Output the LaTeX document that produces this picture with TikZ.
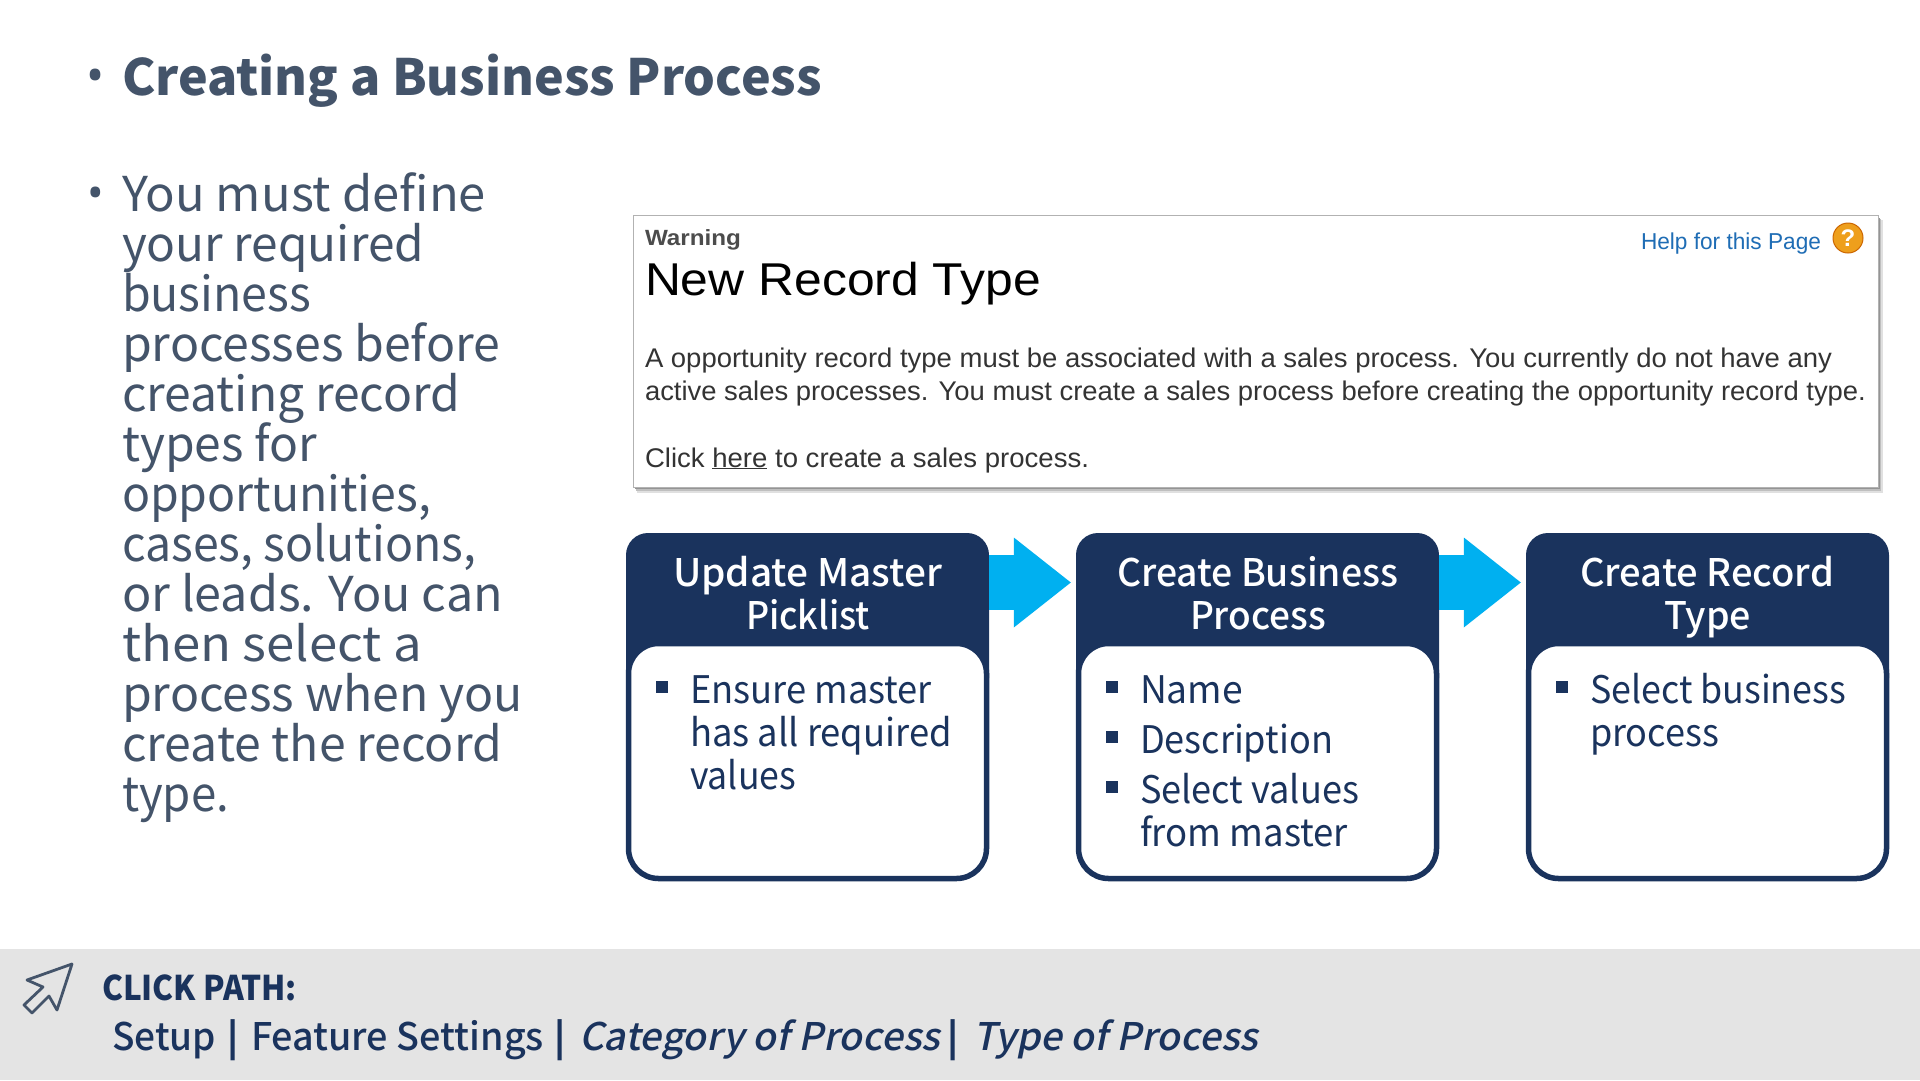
\documentclass[tikz,border=0pt]{standalone}
\usepackage{graphicx}
\usepackage{fontspec}
\usetikzlibrary{arrows.meta}
\setmainfont{Noto Sans CJK SC}
\newfontfamily\slantfont[FakeSlant=0.2]{Noto Sans CJK SC Medium}
\newfontfamily\medfont{Noto Sans CJK SC Medium}
\newfontfamily\bulletfont{Noto Sans}
\newfontfamily\shotfont{Liberation Sans}
\definecolor{slate}{HTML}{44546A}
\definecolor{navy}{HTML}{1A335D}
\definecolor{sky}{HTML}{00B0F0}
\definecolor{band}{HTML}{E4E4E4}
\definecolor{shot}{HTML}{333333}
\definecolor{helpblue}{HTML}{1F6DB5}
\definecolor{helpgold}{HTML}{EE9F1C}
\newcommand{\fsz}[1]{\fontsize{#1}{#1}\selectfont}
% name, x, y(baseline), right end x, style, text
\newcommand{\tline}[6]{\pgfmathsetmacro{\twd}{#4-#2}\node[txt,#5] (#1) at (#2,#3) {\resizebox{\twd pt}{\height}{#6}};}
\tikzset{
  txt/.style={anchor=base west,inner sep=0pt,outer sep=0pt},
  titlet/.style={text=slate,font=\bfseries\fsz{50}},
  bodyt/.style={text=slate,font=\fsz{48}},
  headt/.style={text=white,font=\medfont\fsz{38}},
  itemt/.style={text=navy,font=\fsz{38}},
  patht/.style={text=navy,font=\medfont\fsz{38}},
  pipet/.style={txt,text=navy,font=\bfseries\fsz{36}},
  shott/.style={text=shot,font=\shotfont\fsz{27}},
  headbox/.style={fill=navy,draw=none,rounded corners=22pt,minimum width=363pt,minimum height=167pt,inner sep=0pt},
  bodybox/.style={fill=white,draw=navy,line width=5.5pt,rounded corners=30pt,minimum width=358pt,minimum height=235pt,inner sep=0pt},
  sq/.style={fill=navy,minimum size=12pt,inner sep=0pt},
  flow/.style={draw=sky,line width=55pt,-{Triangle[length=57pt,width=90pt,fill=sky,line width=0pt]},shorten >=5pt},
}
\begin{document}
\begin{tikzpicture}[x=1pt,y=-1pt]
\useasboundingbox (0,0) rectangle (1920,1080);
\fill[white] (0,0) rectangle (1920,1080);
% title and left text
\node[txt,text=slate,font=\bulletfont\fsz{48}] (tb) at (86,92) {•};
\tline{title}{122}{95}{822}{titlet}{Creating a Business Process}
\node[txt,text=slate,font=\bulletfont\fsz{44}] (bb) at (87,208) {•};
\tline{l1}{122}{211.5}{486}{bodyt}{You must define}
\tline{l2}{122}{261.5}{424}{bodyt}{your required}
\tline{l3}{122}{311.5}{311}{bodyt}{business}
\tline{l4}{122}{361.5}{500}{bodyt}{processes before}
\tline{l5}{122}{411.5}{460}{bodyt}{creating record}
\tline{l6}{122}{461.5}{317}{bodyt}{types for}
\tline{l7}{122}{511.5}{431}{bodyt}{opportunities,}
\tline{l8}{122}{561.5}{476}{bodyt}{cases, solutions,}
\tline{l9}{122}{611.5}{503}{bodyt}{or leads. You can}
\tline{l10}{122}{661.5}{422}{bodyt}{then select a}
\tline{l11}{122}{711.5}{523}{bodyt}{process when you}
\tline{l12}{122}{761.5}{502}{bodyt}{create the record}
\tline{l13}{122}{811.5}{229}{bodyt}{type.}
% screenshot
\fill[black!12] (637,220) rectangle (1883,493);
\fill[black!25] (636,219) rectangle (1881,491);
\fill[black!42] (635,218) rectangle (1880,489);
\node[draw=black!30,line width=1pt,fill=white,minimum width=1245pt,minimum height=272pt,inner sep=0pt] (shotbox) at (1255.5,351) {};
\tline{warn}{645}{245}{741}{text=black!70,font=\shotfont\bfseries\fsz{22}}{Warning}
\tline{newrec}{645}{295}{1041}{text=black,font=\shotfont\fsz{46}}{New Record Type}
\tline{help}{1641}{249}{1821}{text=helpblue,font=\shotfont\fsz{23}}{Help for this Page}
\node[circle,fill=helpgold,draw=orange!80!black,line width=1pt,minimum size=30pt,inner sep=0pt,text=white,font=\shotfont\bfseries\fsz{24}] (q) at (1848,238) {?};
\tline{s1}{645}{367}{1832}{shott}{A opportunity record type must be associated with a sales process.  You currently do not have any}
\tline{s2}{645}{400}{1866}{shott}{active sales processes.  You must create a sales process before creating the opportunity record type.}
\tline{s3}{645}{467}{1089}{shott}{Click \underline{here} to create a sales process.}
% boxes
\node[headbox] (h1) at (807.5,616.5) {};
\node[bodybox] (b1) at (807.5,761) {};
\node[headbox] (h2) at (1257.5,616.5) {};
\node[bodybox] (b2) at (1257.5,761) {};
\node[headbox] (h3) at (1707.5,616.5) {};
\node[bodybox] (b3) at (1707.5,761) {};
\draw[flow] ([yshift=34pt]h1.east) -- ([yshift=34pt]h2.west);
\draw[flow] ([yshift=34pt]h2.east) -- ([yshift=34pt]h3.west);
\tline{h1a}{673}{586}{942}{headt}{Update Master}
\tline{h1b}{746}{629}{870}{headt}{Picklist}
\tline{h2a}{1117}{586}{1398}{headt}{Create Business}
\tline{h2b}{1190}{629}{1326}{headt}{Process}
\tline{h3a}{1580}{586}{1834}{headt}{Create Record}
\tline{h3b}{1664}{629}{1751}{headt}{Type}
\node[sq] (q1) at (662,687) {};
\tline{i1a}{690}{703}{932}{itemt}{Ensure master}
\tline{i1b}{690}{746}{952}{itemt}{has all required}
\tline{i1c}{690}{789}{796}{itemt}{values}
\node[sq] (q2) at (1112,687) {};
\tline{i2a}{1140}{703}{1243}{itemt}{Name}
\node[sq] (q3) at (1112,737) {};
\tline{i2b}{1140}{753}{1333}{itemt}{Description}
\node[sq] (q4) at (1112,787) {};
\tline{i2c}{1140}{803}{1359}{itemt}{Select values}
\tline{i2d}{1140}{846}{1348}{itemt}{from master}
\node[sq] (q5) at (1562,687) {};
\tline{i3a}{1590}{703}{1846}{itemt}{Select business}
\tline{i3b}{1590}{746}{1719}{itemt}{process}
% click path band
\fill[band] (0,949) rectangle (1920,1080);
\draw[slate,line width=2.8pt,line join=round] (72,964) -- (27,980) -- (43,987) -- (24,1005) -- (32,1013) -- (49,996) -- (57,1010) -- cycle;
\tline{cp}{102}{1000.5}{297}{patht,font=\bfseries\fsz{34}}{CLICK PATH:}
\tline{p1}{112}{1050.5}{216}{patht}{Setup}
\node[pipet] (p1b) at (227,1050.5) {|};
\tline{p1c}{251}{1050.5}{544}{patht}{Feature Settings}
\node[pipet] (p2) at (554,1050.5) {|};
\tline{p3}{579}{1050.5}{940}{patht,font=\slantfont\fsz{38}}{Category of Process}
\node[pipet] (p4) at (947,1050.5) {|};
\tline{p5}{973}{1050.5}{1258}{patht,font=\slantfont\fsz{38}}{Type of Process}
\end{tikzpicture}
\end{document}
